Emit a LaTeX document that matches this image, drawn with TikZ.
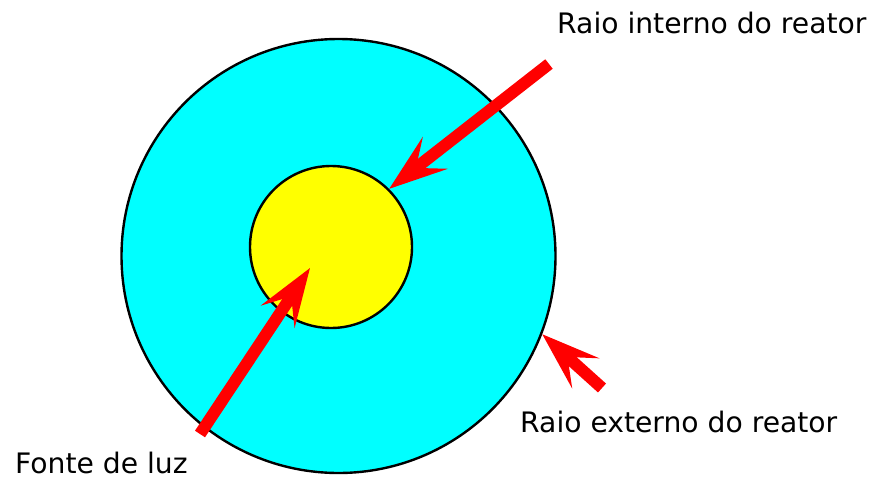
\documentclass[tikz,border=0pt]{standalone}
\usepackage{fontspec}
\setmainfont{DejaVu Sans}
\usetikzlibrary{arrows.meta,positioning}
\definecolor{reactorcyan}{RGB}{0,255,255}
\definecolor{lampyellow}{RGB}{255,255,0}
\definecolor{arrowred}{RGB}{255,0,0}
\tikzset{
  ring/.style={draw, circle, line width=2.4pt, inner sep=0pt},
  redarrow/.style={draw=arrowred, line width=12pt, line cap=butt,
    -{Stealth[length=58pt, width=40pt, inset=24pt]}},
  caption/.style={inner sep=0pt, anchor=base west, font=\fontsize{28.2}{34}\selectfont}
}
\begin{document}
\begin{tikzpicture}[x=1pt,y=-1pt]
            \useasboundingbox (0,0) rectangle (872,479);

            % Reactor and light source
            \node[ring, fill=reactorcyan, minimum size=434pt] (outer) at (338.5,256) {};
            \node[ring, fill=lampyellow, minimum size=162pt] (inner) at (331,247) {};

            % Labels
            \node[caption] (intlabel) at (557,33) {Raio interno do reator};
            \node[caption] (extlabel) at (520,432) {Raio externo do reator};
            \node[caption] (lamplabel) at (15,473) {Fonte de luz};

            % Arrow ends
            \coordinate (inttail) at (549,64);
            \coordinate (exttail) at (602,388);
            \coordinate (lamptail) at (200,434);
            \coordinate (lamptip) at (310,268);

            % Arrows
            \draw[redarrow] (inttail) -- (inner.45);
            \draw[redarrow] (exttail) -- (outer.-21);
            \draw[redarrow] (lamptail) -- (lamptip);
        \end{tikzpicture}
\end{document}
